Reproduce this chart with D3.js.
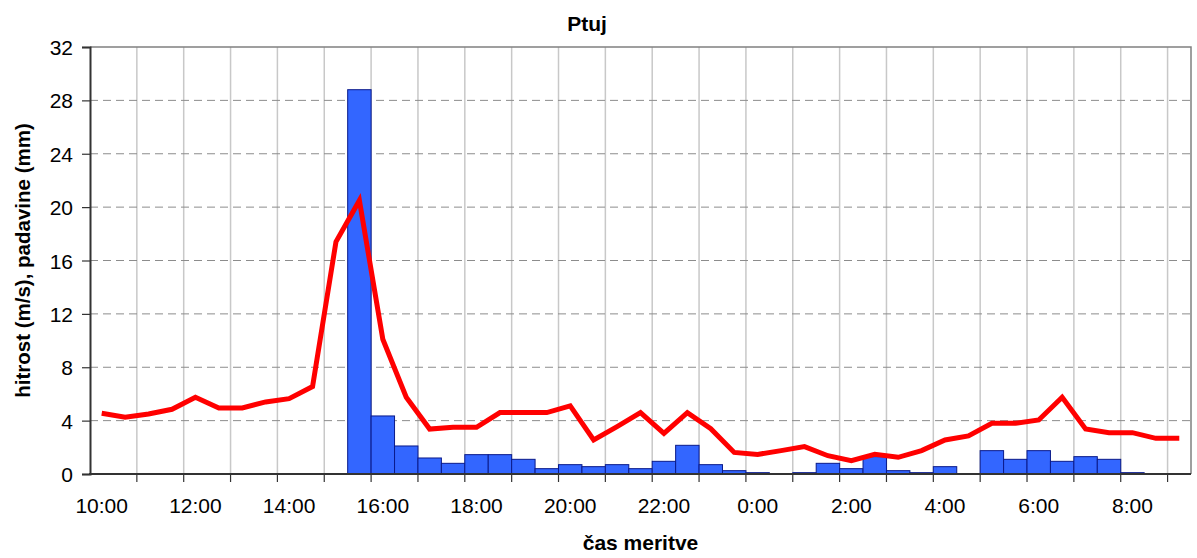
<!DOCTYPE html>
<html>
<head>
<meta charset="utf-8">
<script src="https://cdn.jsdelivr.net/npm/d3@7"></script>
<style>
  body { margin: 0; background: #fff; }
  text { font-family: "Liberation Sans", Arial, sans-serif; fill: #000; }
</style>
</head>
<body>
<svg></svg>
<script>
// half-hour measurement times
var times = ["10:00","10:30","11:00","11:30","12:00","12:30","13:00","13:30","14:00","14:30",
  "15:00","15:30","16:00","16:30","17:00","17:30","18:00","18:30","19:00","19:30",
  "20:00","20:30","21:00","21:30","22:00","22:30","23:00","23:30","0:00","0:30",
  "1:00","1:30","2:00","2:30","3:00","3:30","4:00","4:30","5:00","5:30",
  "6:00","6:30","7:00","7:30","8:00","8:30","9:00"];
// padavine (mm) - bars
var rain = [0,0,0,0,0,0,0,0,0,0,
  0,28.8,4.35,2.1,1.2,0.8,1.45,1.45,1.1,0.4,
  0.7,0.55,0.7,0.4,0.95,2.15,0.7,0.25,0.1,0,
  0.1,0.8,0.4,1.3,0.25,0.1,0.55,0,1.75,1.1,
  1.75,0.95,1.3,1.1,0.1,0,0];
// hitrost vetra (m/s) - line
var wind = [4.55,4.25,4.5,4.85,5.75,4.95,4.95,5.4,5.65,6.55,
  17.4,20.5,10.1,5.75,3.37,3.5,3.5,4.6,4.6,4.6,
  5.1,2.55,3.55,4.6,3.05,4.6,3.4,1.62,1.47,1.75,
  2.05,1.37,1.0,1.47,1.25,1.75,2.55,2.85,3.8,3.8,
  4.05,5.75,3.37,3.1,3.1,2.67,2.67];
var yTicks = [0,4,8,12,16,20,24,28,32];
var xLabels = ["10:00","12:00","14:00","16:00","18:00","20:00","22:00","0:00","2:00","4:00","6:00","8:00"];

var svgWidth = 1197, svgHeight = 558;
var plotL = 90, plotR = 1191, plotT = 47, plotB = 474;

var svg = d3.select("svg")
    .attr("width", svgWidth)
    .attr("height", svgHeight);

var x = d3.scaleBand()
    .domain(times)
    .range([plotL, plotR])
    .padding(0);

var y = d3.scaleLinear()
    .domain([0, 32])
    .range([plotB, plotT]);

// hourly ticks sit on the left edge of every second band
var hourTicks = times.filter(function(d, i) { return i % 2 == 0 && i > 0; });

// vertical grid
svg.append("g").selectAll("line")
    .data(hourTicks)
    .enter().append("line")
    .attr("x1", function(d) { return x(d); })
    .attr("x2", function(d) { return x(d); })
    .attr("y1", plotT)
    .attr("y2", plotB)
    .attr("stroke", "#c8c8c8")
    .attr("stroke-width", 1.5);

// horizontal dashed grid
svg.append("g").selectAll("line")
    .data(yTicks.filter(function(d) { return d > 0 && d < 32; }))
    .enter().append("line")
    .attr("x1", plotL)
    .attr("x2", plotR)
    .attr("y1", function(d) { return y(d); })
    .attr("y2", function(d) { return y(d); })
    .attr("stroke", "#8c8c8c")
    .attr("stroke-width", 1)
    .attr("stroke-dasharray", "8,5");

// plot border top/right
svg.append("path")
    .attr("d", "M" + plotL + "," + y(32) + "H" + plotR + "V" + plotB)
    .attr("fill", "none")
    .attr("stroke", "#808080")
    .attr("stroke-width", 1.5);

// bars
svg.append("g").selectAll("rect")
    .data(times.map(function(t, i) { return { t: t, v: rain[i] }; }).filter(function(d) { return d.v > 0; }))
    .enter().append("rect")
    .attr("x", function(d) { return x(d.t); })
    .attr("width", x.bandwidth())
    .attr("y", function(d) { return y(d.v); })
    .attr("height", function(d) { return y(0) - y(d.v); })
    .attr("fill", "#3366ff")
    .attr("stroke", "#0a1a8a")
    .attr("stroke-width", 1);

// wind line
var line = d3.line()
    .x(function(d, i) { return x(times[i]) + x.bandwidth() / 2; })
    .y(function(d) { return y(d); });

svg.append("path")
    .datum(wind)
    .attr("d", line)
    .attr("fill", "none")
    .attr("stroke", "#ff0000")
    .attr("stroke-width", 5)
    .attr("stroke-linejoin", "miter");

// y axis
var yAxis = svg.append("g")
    .attr("transform", "translate(" + plotL + ",0)")
    .call(d3.axisLeft(y).tickValues(yTicks).tickSize(8).tickPadding(9));
yAxis.select(".domain").attr("stroke", "#333").attr("stroke-width", 2);
yAxis.selectAll(".tick line").attr("stroke", "#333").attr("stroke-width", 1.2);
yAxis.selectAll("text")
    .style("font-size", "21px")
    .attr("dy", "0.36em");

// x axis: ticks every hour, labels every two hours
var xTickAxis = svg.append("g")
    .attr("transform", "translate(0," + plotB + ")")
    .call(d3.axisBottom(x).tickValues(hourTicks).tickSize(8).tickFormat(""));
xTickAxis.select(".domain").remove();
xTickAxis.selectAll(".tick").attr("transform", function(d) { return "translate(" + x(d) + ",0)"; });
xTickAxis.selectAll(".tick line").attr("stroke", "#333").attr("stroke-width", 1.2);

svg.append("line")
    .attr("x1", plotL - 1)
    .attr("x2", plotR)
    .attr("y1", plotB)
    .attr("y2", plotB)
    .attr("stroke", "#333")
    .attr("stroke-width", 2);

var xAxis = svg.append("g")
    .attr("transform", "translate(0," + plotB + ")")
    .call(d3.axisBottom(x).tickValues(xLabels).tickSize(0).tickPadding(24));
xAxis.select(".domain").remove();
xAxis.selectAll("text").style("font-size", "21px");

// titles
svg.append("text")
    .attr("x", 587)
    .attr("y", 31)
    .attr("text-anchor", "middle")
    .style("font-size", "21px")
    .style("font-weight", "bold")
    .text("Ptuj");

svg.append("text")
    .attr("x", (plotL + plotR) / 2)
    .attr("y", 550)
    .attr("text-anchor", "middle")
    .style("font-size", "21px")
    .style("font-weight", "bold")
    .text("čas meritve");

svg.append("text")
    .attr("transform", "translate(30," + (plotT + plotB) / 2 + ") rotate(-90)")
    .attr("text-anchor", "middle")
    .style("font-size", "20.5px")
    .style("font-weight", "bold")
    .text("hitrost (m/s), padavine (mm)");
</script>
</body>
</html>
